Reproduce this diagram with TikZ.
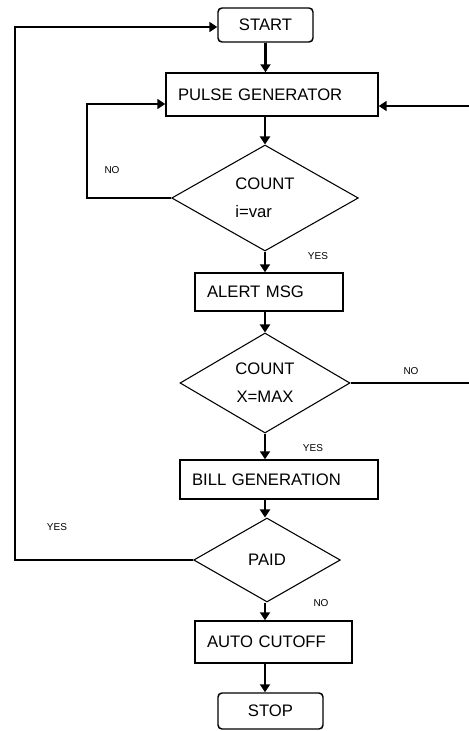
\documentclass[tikz,border=0pt]{standalone}
\usepackage{fontspec}
\setmainfont{Liberation Sans}
\usetikzlibrary{shapes.geometric,arrows.meta}
\begin{document}
\begin{tikzpicture}[x=0.75pt,y=-0.75pt,
  every node/.style={font=\fontsize{12.5}{21}\selectfont},
  stepbox/.style={draw,line width=1.1pt,inner ysep=0pt,inner xsep=9pt,align=left},
  termbox/.style={draw,line width=1.1pt,inner sep=0pt,rounded corners=3pt},
  decide/.style={draw,diamond,line width=0.8pt,inner sep=0pt,align=center},
  lbl/.style={font=\fontsize{7.5}{9}\selectfont},
  arr/.style={line width=1.8pt,-{Triangle[length=6pt,width=7.5pt]}},
  loop/.style={line width=1.3pt,-{Triangle[length=6pt,width=7.5pt]}}]
\useasboundingbox (0,0) rectangle (468,731);
% main column
\node[termbox,minimum width=71.25pt,minimum height=25.5pt] (start) at (265.5,25) {START\hspace{6pt}};
\node[stepbox,text width=141pt,minimum height=32.25pt] (pulse) at (272,94.5) {PULSE GENERATOR};
\node[decide,minimum width=140pt,minimum height=79.5pt,align=left] (count1) at (265,198) {COUNT\\i=var};
\node[stepbox,text width=93pt,minimum height=28.5pt] (alert) at (269,292) {ALERT MSG};
\node[decide,minimum width=127.5pt,minimum height=75pt] (count2) at (265,383) {COUNT\\X=MAX};
\node[stepbox,text width=130.5pt,minimum height=29.25pt] (bill) at (279,479.5) {BILL GENERATION};
\node[decide,minimum width=110pt,minimum height=63pt] (paid) at (267,560) {PAID};
\node[stepbox,text width=99.75pt,minimum height=31.5pt] (cutoff) at (273.5,642) {AUTO CUTOFF};
\node[termbox,minimum width=78.75pt,minimum height=27pt] (stop) at (270.5,711) {STOP\hspace{6pt}};
% downward arrows
\draw[arr] (start.south) -- (start.south |- pulse.north);
\draw[arr] (count1.north |- pulse.south) -- (count1.north);
\draw[arr] (count1.south) -- (count1.south |- alert.north);
\draw[arr] (count2.north |- alert.south) -- (count2.north);
\draw[arr] (count2.south) -- (count2.south |- bill.north);
\draw[arr] (count2.south |- bill.south) -- (count2.south |- paid.north);
\draw[arr] (count2.south |- paid.south) -- (count2.south |- cutoff.north);
\draw[arr] (count2.south |- cutoff.south) -- (count2.south |- stop.north);
% loops back
\coordinate (noleft) at (87,104);
\coordinate (noright) at (471,106);
\coordinate (yesleft) at (15,27);
\draw[loop] (count1.west) -| (noleft) -- (noleft -| pulse.west);
\draw[loop] (count2.east) -| (noright) -- (noright -| pulse.east);
\draw[loop] (paid.west) -| (yesleft) -- (yesleft -| start.west);
% labels
\node[lbl] (l1) at (112,170) {NO};
\node[lbl] (l2) at (318,256) {YES};
\node[lbl] (l3) at (411,371) {NO};
\node[lbl] (l4) at (313,448) {YES};
\node[lbl] (l5) at (57,527) {YES};
\node[lbl] (l6) at (321,603) {NO};
\end{tikzpicture}
\end{document}
